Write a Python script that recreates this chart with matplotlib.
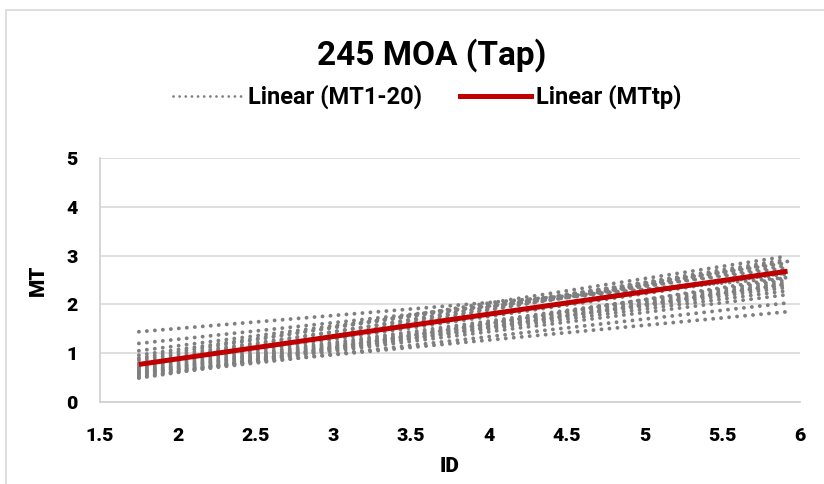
import numpy as np
import matplotlib
matplotlib.use("Agg")
import matplotlib.pyplot as plt
from matplotlib.lines import Line2D
from matplotlib.patches import Rectangle
from matplotlib.font_manager import FontProperties

plt.rcParams['font.family'] = ['Roboto', 'DejaVu Sans']
plt.rcParams['font.weight'] = 'bold'

# ── DATA ──────────────────────────────────────────────────────────────────
# linear trend lines, drawn between the first and last ID
ID_START = 1.75
ID_END = 5.92

# MT1-20 trend lines: value at ID_START, value at ID_END
MT_START = [1.44, 1.20, 1.05, 0.96, 0.90, 0.86, 0.80, 0.76, 0.72, 0.70,
            0.67, 0.64, 0.62, 0.60, 0.58, 0.55, 0.53, 0.59, 0.50, 0.49]
MT_END = [2.55, 2.62, 2.75, 2.85, 2.99, 2.80, 2.92, 2.70, 2.88, 2.65,
          2.50, 2.45, 2.40, 2.35, 2.28, 2.20, 2.03, 1.85, 2.55, 2.42]

# MTtp trend line
MTTP_START = 0.77
MTTP_END = 2.68

X_TICKS = [1.5, 2, 2.5, 3, 3.5, 4, 4.5, 5, 5.5, 6]
Y_TICKS = [0, 1, 2, 3, 4, 5]

# ── FIGURE ────────────────────────────────────────────────────────────────
fig = plt.figure(figsize=(8.24, 4.84), dpi=100)
ax = fig.add_axes([100 / 824, 82 / 484, 700 / 824, 244 / 484])

# chart border
fig.patches.append(Rectangle((6 / 824, -0.1), 1.2, 1.1 - 10 / 484,
                             transform=fig.transFigure, fill=False,
                             edgecolor='#d9d9d9', linewidth=1.2))

ids = [ID_START, ID_END]
for s, e in zip(MT_START, MT_END):
    ax.plot(ids, [s, e], color='#7f7f7f', linewidth=2.8,
            linestyle=(0, (0.01, 2.05)), dash_capstyle='round', zorder=2)

ax.plot(ids, [MTTP_START, MTTP_END], color='#c00000', linewidth=3.6,
        solid_capstyle='butt', zorder=3)

tick_font = FontProperties(family='Roboto', weight='black', size=14)
ax.set_xlim(1.5, 6)
ax.set_ylim(0, 5)
ax.set_xticks(X_TICKS)
ax.set_xticklabels([f"{v:g}" for v in X_TICKS], fontproperties=tick_font)
ax.set_yticks(Y_TICKS)
ax.set_yticklabels([f"{v:g}" for v in Y_TICKS], fontproperties=tick_font)
ax.tick_params(length=0)
ax.tick_params(axis='x', pad=18)
ax.tick_params(axis='y', pad=16)

ax.grid(axis='y', color='#d9d9d9', linewidth=1.2)
ax.set_axisbelow(True)
for side in ('top', 'right'):
    ax.spines[side].set_visible(False)
for side in ('left', 'bottom'):
    ax.spines[side].set_color('#d0d0d0')
    ax.spines[side].set_linewidth(1.2)

ax.set_xlabel("ID", fontsize=15, fontweight='heavy', labelpad=9)
ax.set_ylabel("MT", fontsize=15, fontweight='heavy', labelpad=13)

fig.text(432 / 824, 1 - 55 / 484, "245 MOA (Tap)", ha='center', va='center',
         fontsize=24, fontweight='bold')

handles = [Line2D([], [], color='#7f7f7f', linewidth=2.0,
                  linestyle=(0, (0.01, 2.2)), dash_capstyle='round'),
           Line2D([], [], color='#c00000', linewidth=3.6)]
leg = fig.legend(handles, ["Linear (MT1-20)", "Linear (MTtp)"], loc='center',
                 bbox_to_anchor=(427 / 824, 1 - 97 / 484), ncol=2,
                 frameon=False, fontsize=17, handlelength=3.0,
                 handletextpad=0.2, columnspacing=1.6)
for t in leg.get_texts():
    t.set_fontweight('bold')

fig.savefig("out.png", dpi=100)
